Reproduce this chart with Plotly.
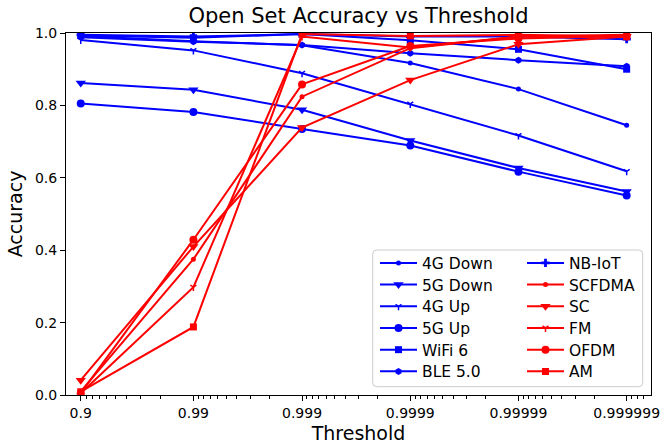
import numpy as np
import plotly.graph_objects as go

thresholds = [0.9, 0.99, 0.999, 0.9999, 0.99999, 0.999999]
tick_labels = ["0.9", "0.99", "0.999", "0.9999", "0.99999", "0.999999"]

acc_4g_down = [0.992, 0.977, 0.966, 0.917, 0.845, 0.745]
acc_5g_down = [0.862, 0.843, 0.788, 0.703, 0.627, 0.562]
acc_4g_up = [0.981, 0.952, 0.889, 0.804, 0.717, 0.618]
acc_5g_up = [0.805, 0.782, 0.735, 0.689, 0.617, 0.551]
acc_wifi6 = [0.993, 0.987, 0.997, 0.980, 0.955, 0.900]
acc_ble = [0.988, 0.976, 0.967, 0.944, 0.925, 0.908]
acc_nbiot = [0.995, 0.990, 0.997, 0.990, 0.990, 0.983]
acc_scfdma = [0.010, 0.375, 0.824, 0.958, 0.990, 0.995]
acc_sc = [0.041, 0.410, 0.739, 0.870, 0.969, 0.990]
acc_fm = [0.005, 0.298, 0.990, 0.960, 0.990, 0.990]
acc_ofdm = [0.005, 0.429, 0.858, 0.964, 0.985, 0.992]
acc_am = [0.009, 0.188, 0.997, 0.992, 0.995, 0.990]

series = [
    ("4G Down", acc_4g_down, "blue", "circle", 5),
    ("5G Down", acc_5g_down, "blue", "triangle-down", 9),
    ("4G Up", acc_4g_up, "blue", "y-down", 5),
    ("5G Up", acc_5g_up, "blue", "circle", 8),
    ("WiFi 6", acc_wifi6, "blue", "square", 7),
    ("BLE 5.0", acc_ble, "blue", "hexagon", 7),
    ("NB-IoT", acc_nbiot, "blue", "cross", 7),
    ("SCFDMA", acc_scfdma, "red", "circle", 5),
    ("SC", acc_sc, "red", "triangle-down", 9),
    ("FM", acc_fm, "red", "y-down", 5),
    ("OFDM", acc_ofdm, "red", "circle", 8),
    ("AM", acc_am, "red", "square", 7),
]

def logit(p):
    p = np.asarray(p, dtype=float)
    return np.log10(p / (1 - p))

xv = logit(thresholds)

# body margin is removed by post_script, so figure fills the window
W, H = 663, 445
L, R, T, B = 66, 12, 33, 50
pw, ph = W - L - R, H - T - B

def px_x(x):
    return (x - L) / pw

def px_y(y):
    return (H - B - y) / ph

fig = go.Figure()
legend_ids = []
for i, (name, vals, color, sym, size) in enumerate(series):
    lid = "legend" if i == 0 else f"legend{i + 1}"
    legend_ids.append(lid)
    fig.add_trace(go.Scatter(
        x=xv, y=vals, mode="lines+markers", name=name, legend=lid,
        line=dict(color=color, width=2),
        marker=dict(symbol=sym, size=size, color=color,
                    line=dict(color=color, width=1.5 if sym == "y-down" else 0)),
        hoverinfo="skip",
    ))

# minor ticks of logit scale
minor_p = []
for n in range(1, 8):
    for k in range(2, 10):
        minor_p.append(1 - k * 10.0 ** (-n))
minor_x = [v for v in logit(minor_p) if 0.82 < v < 6.22]

bx0, bx1, by0, by1 = px_x(372.7), px_x(642.7), px_y(386.7), px_y(250)
rx, ry = 4 / pw, 4 / ph
path = (f"M{bx0+rx},{by0} L{bx1-rx},{by0} Q{bx1},{by0} {bx1},{by0+ry} "
        f"L{bx1},{by1-ry} Q{bx1},{by1} {bx1-rx},{by1} L{bx0+rx},{by1} "
        f"Q{bx0},{by1} {bx0},{by1-ry} L{bx0},{by0+ry} Q{bx0},{by0} {bx0+rx},{by0} Z")

fig.add_shape(type="path", path=path, xref="paper", yref="paper",
              line=dict(color="#cccccc", width=1), fillcolor="rgba(255,255,255,0.8)",
              layer="above")

font_family = "DejaVu Sans"
legend_layout = {}
for i, lid in enumerate(legend_ids):
    col, row = divmod(i, 6)
    lx = 375 if col == 0 else 522
    ly = 263.3 + row * 21.7
    legend_layout[lid] = dict(
        x=px_x(lx), y=px_y(ly), xanchor="left", yanchor="middle",
        bgcolor="rgba(0,0,0,0)", borderwidth=0, itemwidth=37,
        font=dict(size=15.5, family=font_family, color="black"),
    )

fig.update_layout(
    width=W, height=H,
    margin=dict(l=L, r=R, t=T, b=B, autoexpand=False),
    paper_bgcolor="white", plot_bgcolor="white",
    hovermode=False,
    font=dict(family=font_family, color="black", size=14),
    title=dict(text="Open Set Accuracy vs Threshold", x=px_x(358.5), xref="paper",
               y=1 - 16 / H, yref="container", xanchor="center", yanchor="middle",
               font=dict(size=21, family=font_family, color="black")),
    xaxis=dict(
        range=[0.818, 6.225], tickmode="array", tickvals=list(xv), ticktext=tick_labels,
        showgrid=False, zeroline=False, showline=True, mirror=True, linecolor="black",
        linewidth=1, ticks="outside", ticklen=5, tickwidth=1, tickcolor="black",
        tickfont=dict(size=14), automargin=False,
        minor=dict(tickmode="array", tickvals=minor_x, ticks="outside", ticklen=3,
                   tickwidth=1, tickcolor="black", showgrid=False),
        title=dict(text="Threshold", font=dict(size=19), standoff=6),
    ),
    yaxis=dict(
        range=[0, 1], tickmode="array", tickvals=[0, 0.2, 0.4, 0.6, 0.8, 1.0],
        tickformat=".1f", showgrid=False, zeroline=False, showline=True, mirror=True,
        linecolor="black", linewidth=1, ticks="outside", ticklen=5, tickwidth=1,
        tickcolor="black", tickfont=dict(size=14), automargin=False,
        title=dict(text="Accuracy", font=dict(size=19), standoff=7),
    ),
    showlegend=True,
    **legend_layout,
)

fig.write_html("out.html", config={"displayModeBar": False, "staticPlot": False},
               post_script="document.body.style.margin='0';document.body.style.overflow='hidden';")
